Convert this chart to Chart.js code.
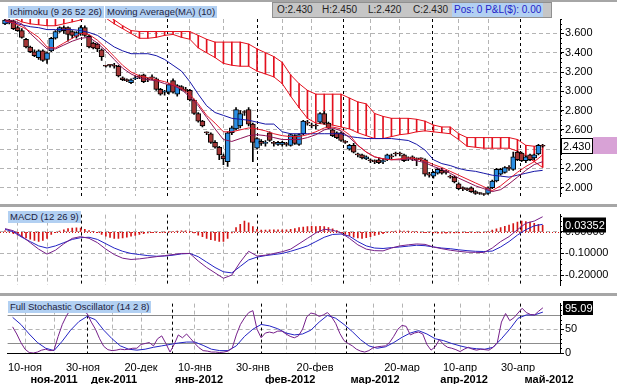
<!DOCTYPE html>
<html lang="ru">
<head>
<meta charset="UTF-8">
<title>Ichimoku / MACD / Stochastic</title>
<script src="https://cdn.jsdelivr.net/npm/chart.js"></script>
<style>
  html, body { margin: 0; padding: 0; background: #fff; }
  body { width: 617px; height: 384px; position: relative; overflow: hidden;
         font-family: "Liberation Sans", Arial, sans-serif; }
  canvas { position: absolute; left: 0; }
  #cPrice { top: 0; }
  #cMacd { top: 207px; }
  #cStoch { top: 296px; }
  .sep { position: absolute; left: 0; width: 617px; background: #a6a6a6; }
  .tag { position: absolute; height: 12px; line-height: 12px; font-size: 9.5px; padding: 0 2px;
         background: #b2d0f2; color: #1c1c40; white-space: nowrap; }
  .ohlc { position: absolute; top: 2px; left: 272px; width: 278px; height: 14px;
          background: #c6c6c6; border: 1px solid #909090; font-size: 10px; line-height: 14px; }
  .ohlc span { position: absolute; top: 0; color: #222; }
  .ohlc .pos { color: #2222c8; background: #b2d0f2; padding: 0 2px; }
</style>
</head>
<body>
<div class="sep" style="top:0;height:2px"></div>
<canvas id="cPrice" width="617" height="204"></canvas>
<div class="sep" style="top:204px;height:3px"></div>
<canvas id="cMacd" width="617" height="86"></canvas>
<div class="sep" style="top:293px;height:3px"></div>
<canvas id="cStoch" width="617" height="88"></canvas>

<div class="tag" style="left:8px;top:6px">Ichimoku (9 26 52 26)</div>
<div class="tag" style="left:105px;top:6px">Moving Average(MA) (10)</div>
<div class="ohlc">
  <span style="left:4px">O:2.430</span>
  <span style="left:49px">H:2.450</span>
  <span style="left:95px">L:2.420</span>
  <span style="left:140px">C:2.430</span>
  <span class="pos" style="left:179px">Pos: 0 P&amp;L($): 0.00</span>
</div>
<div class="tag" style="left:8px;top:211px">MACD (12 26 9)</div>
<div class="tag" style="left:8px;top:301px">Full Stochastic Oscillator (14 2 8)</div>

<script>
// daily bars, 07 nov 2011 .. 04 may 2012
const opens = [3.70,3.74,3.73,3.66,3.63,3.54,3.46,3.41,3.35,3.42,3.33,3.42,3.55,3.62,3.66,3.66,3.62,3.57,3.60,3.66,
  3.57,3.50,3.49,3.43,3.26,3.27,3.27,3.26,3.14,3.12,3.09,3.13,3.15,3.17,3.12,3.14,3.13,3.02,2.99,2.99,
  3.11,2.97,3.05,3.02,3.01,2.91,2.77,2.69,2.57,2.56,2.47,2.42,2.33,2.27,2.57,2.61,2.64,2.78,2.81,2.66,
  2.41,2.48,2.46,2.57,2.46,2.45,2.45,2.46,2.44,2.54,2.45,2.56,2.68,2.65,2.64,2.68,2.77,2.67,2.60,2.57,
  2.57,2.47,2.40,2.44,2.35,2.34,2.30,2.28,2.27,2.29,2.27,2.29,2.32,2.35,2.35,2.34,2.30,2.31,2.29,2.30,
  2.29,2.14,2.12,2.15,2.18,2.16,2.12,2.11,2.04,1.99,1.99,2.00,1.96,1.94,1.93,1.94,2.00,2.07,2.14,2.16,
  2.21,2.19,2.37,2.36,2.28,2.34,2.31,2.35,2.43];
const highs = [3.76,3.76,3.74,3.68,3.65,3.55,3.47,3.43,3.43,3.43,3.41,3.56,3.63,3.67,3.68,3.67,3.63,3.62,3.68,3.68,
  3.58,3.51,3.50,3.44,3.27,3.28,3.29,3.27,3.15,3.13,3.13,3.16,3.17,3.18,3.14,3.17,3.14,3.03,3.01,3.08,
  3.13,3.07,3.06,3.04,3.02,2.92,2.78,2.70,2.58,2.57,2.49,2.43,2.35,2.58,2.64,2.83,2.80,2.80,2.83,2.67,
  2.52,2.50,2.49,2.58,2.48,2.48,2.48,2.47,2.56,2.55,2.56,2.70,2.70,2.67,2.66,2.78,2.79,2.68,2.61,2.58,
  2.58,2.49,2.45,2.46,2.36,2.35,2.33,2.30,2.29,2.31,2.30,2.35,2.35,2.37,2.37,2.35,2.32,2.33,2.31,2.31,
  2.30,2.16,2.17,2.20,2.20,2.18,2.13,2.12,2.05,2.01,2.00,2.01,1.97,1.95,1.94,2.01,2.08,2.20,2.20,2.22,
  2.23,2.37,2.38,2.37,2.33,2.35,2.35,2.45,2.45];
const lows = [3.69,3.70,3.64,3.62,3.55,3.45,3.40,3.36,3.33,3.31,3.29,3.41,3.54,3.61,3.60,3.52,3.55,3.55,3.58,3.57,
  3.45,3.44,3.41,3.32,3.25,3.25,3.24,3.15,3.11,3.10,3.08,3.12,3.13,3.09,3.10,3.12,3.01,2.96,2.96,2.97,
  2.98,2.95,3.01,2.99,2.90,2.76,2.68,2.63,2.55,2.46,2.41,2.29,2.24,2.22,2.55,2.60,2.62,2.75,2.64,2.27,
  2.40,2.44,2.43,2.48,2.43,2.44,2.43,2.43,2.43,2.45,2.44,2.55,2.65,2.62,2.61,2.67,2.66,2.61,2.53,2.51,
  2.48,2.46,2.39,2.36,2.32,2.30,2.29,2.26,2.25,2.25,2.25,2.28,2.30,2.33,2.33,2.27,2.28,2.28,2.23,2.28,
  2.12,2.11,2.10,2.14,2.14,2.14,2.10,2.05,1.98,1.97,1.97,1.95,1.93,1.93,1.92,1.93,1.99,2.06,2.13,2.15,
  2.18,2.18,2.28,2.27,2.26,2.28,2.29,2.34,2.42];
const closes = [3.74,3.72,3.65,3.63,3.56,3.46,3.41,3.37,3.42,3.32,3.40,3.55,3.62,3.66,3.63,3.59,3.58,3.61,3.66,3.58,
  3.46,3.45,3.44,3.36,3.26,3.27,3.26,3.16,3.12,3.11,3.12,3.14,3.15,3.10,3.12,3.14,3.02,2.97,3.00,3.07,
  2.99,3.06,3.02,3.01,2.91,2.77,2.69,2.64,2.57,2.47,2.42,2.34,2.30,2.57,2.62,2.81,2.77,2.78,2.66,2.47,
  2.51,2.46,2.47,2.49,2.46,2.47,2.47,2.45,2.55,2.46,2.55,2.69,2.67,2.64,2.64,2.77,2.67,2.62,2.54,2.52,
  2.49,2.47,2.44,2.37,2.34,2.31,2.32,2.28,2.27,2.26,2.28,2.34,2.32,2.35,2.35,2.28,2.31,2.31,2.29,2.30,
  2.14,2.13,2.16,2.19,2.15,2.16,2.11,2.06,1.99,1.99,1.98,1.96,1.94,1.94,1.93,2.00,2.07,2.19,2.19,2.21,
  2.20,2.32,2.29,2.28,2.32,2.29,2.34,2.44,2.43];

// indicator lines, one value every LINE_STEP bars
const LINE_STEP = 2;
const kijun = [3.72,3.71,3.69,3.67,3.66,3.64,3.64,3.64,3.64,3.63,3.61,3.58,3.52,3.46,3.42,3.39,3.39,3.39,3.37,3.33,
  3.27,3.21,3.10,2.97,2.85,2.78,2.75,2.72,2.71,2.70,2.68,2.66,2.66,2.58,2.56,2.56,2.56,2.56,2.56,2.56,
  2.56,2.53,2.52,2.51,2.51,2.51,2.51,2.50,2.49,2.45,2.39,2.29,2.25,2.23,2.20,2.18,2.17,2.15,2.13,2.12,
  2.11,2.13,2.15,2.17,2.18];
const tenkan = [3.73,3.71,3.67,3.62,3.56,3.46,3.45,3.50,3.55,3.60,3.59,3.53,3.45,3.36,3.27,3.20,3.16,3.14,3.12,3.10,
  3.07,3.03,2.97,2.87,2.75,2.67,2.58,2.58,2.60,2.62,2.61,2.59,2.56,2.54,2.53,2.53,2.55,2.58,2.62,2.63,
  2.61,2.55,2.44,2.37,2.32,2.30,2.29,2.30,2.31,2.30,2.28,2.24,2.21,2.17,2.13,2.09,2.05,2.01,1.97,2.02,
  2.09,2.16,2.22,2.27,2.34];
const ma10 = [3.74,3.73,3.70,3.60,3.52,3.44,3.44,3.48,3.52,3.55,3.56,3.50,3.42,3.33,3.24,3.18,3.14,3.12,3.11,3.08,
  3.06,3.02,2.94,2.85,2.73,2.61,2.50,2.48,2.51,2.54,2.55,2.54,2.52,2.50,2.50,2.50,2.52,2.55,2.60,2.62,
  2.59,2.52,2.44,2.37,2.32,2.30,2.29,2.29,2.30,2.28,2.26,2.22,2.19,2.15,2.10,2.06,2.02,1.99,1.96,1.98,
  2.04,2.11,2.18,2.24,2.27];
const spanA = [3.90,3.90,3.88,3.86,3.86,3.86,3.86,3.86,3.84,3.84,3.84,3.84,3.80,3.74,3.68,3.63,3.62,3.62,3.62,3.62,
  3.62,3.62,3.62,3.58,3.54,3.51,3.51,3.51,3.51,3.49,3.44,3.40,3.36,3.30,3.17,3.08,3.01,2.97,2.97,2.97,
  2.97,2.93,2.89,2.87,2.77,2.74,2.72,2.72,2.72,2.71,2.69,2.65,2.63,2.63,2.56,2.52,2.52,2.52,2.52,2.52,
  2.52,2.50,2.44,2.43,2.44];
const spanB = [3.82,3.76,3.72,3.70,3.69,3.68,3.68,3.70,3.72,3.74,3.78,3.80,3.76,3.70,3.65,3.60,3.55,3.55,3.56,3.58,
  3.59,3.56,3.54,3.45,3.40,3.35,3.29,3.27,3.26,3.26,3.21,3.18,3.15,3.08,2.95,2.83,2.72,2.67,2.66,2.65,
  2.63,2.61,2.57,2.54,2.51,2.51,2.53,2.55,2.56,2.58,2.59,2.58,2.57,2.56,2.50,2.43,2.42,2.41,2.41,2.41,
  2.41,2.38,2.33,2.27,2.21];

const macdLine = [0.015,0.005,-0.02,-0.05,-0.08,-0.103,-0.085,-0.055,-0.03,-0.022,-0.03,-0.05,-0.08,-0.105,-0.122,-0.128,-0.125,-0.12,-0.115,-0.11,
  -0.105,-0.10,-0.10,-0.135,-0.165,-0.19,-0.215,-0.20,-0.14,-0.09,-0.112,-0.108,-0.10,-0.092,-0.08,-0.055,-0.03,-0.005,0.012,0.008,
  -0.005,-0.03,-0.06,-0.08,-0.087,-0.088,-0.075,-0.065,-0.06,-0.056,-0.058,-0.07,-0.078,-0.085,-0.09,-0.094,-0.095,-0.096,-0.075,-0.045,
  -0.022,0.01,0.04,0.05,0.07];
const macdSignal = [0.012,0.0,-0.025,-0.045,-0.065,-0.075,-0.065,-0.05,-0.035,-0.027,-0.025,-0.035,-0.055,-0.075,-0.09,-0.10,-0.105,-0.11,-0.113,-0.112,
  -0.108,-0.102,-0.10,-0.115,-0.14,-0.165,-0.185,-0.19,-0.16,-0.13,-0.117,-0.11,-0.105,-0.10,-0.09,-0.078,-0.065,-0.045,-0.025,-0.012,
  -0.01,-0.02,-0.045,-0.065,-0.075,-0.077,-0.073,-0.07,-0.066,-0.062,-0.064,-0.07,-0.075,-0.078,-0.083,-0.087,-0.09,-0.091,-0.089,-0.07,
  -0.045,-0.015,0.01,0.028,0.035];
// one per bar
const macdHist = [0.005,0,-0.008,-0.015,-0.022,-0.028,-0.034,-0.040,-0.044,-0.040,
  -0.030,-0.012,-0.004,0.004,0.010,0.015,0.018,0.019,0.017,0.012,
  0.006,0.002,-0.004,-0.012,-0.020,-0.026,-0.030,-0.030,-0.028,-0.024,
  -0.020,-0.016,-0.012,-0.008,-0.005,-0.004,-0.003,-0.002,-0.001,0.000,
  0.002,0.004,0.005,0.005,0.003,-0.005,-0.015,-0.022,-0.030,-0.036,
  -0.040,-0.044,-0.044,-0.030,-0.005,0.020,0.035,0.050,0.042,0.025,
  0.012,0.008,0.008,0.009,0.009,0.010,0.009,0.010,0.012,0.015,
  0.020,0.022,0.024,0.026,0.025,0.026,0.024,0.020,0.014,0.006,
  -0.004,-0.012,-0.018,-0.024,-0.028,-0.030,-0.027,-0.022,-0.016,-0.012,
  -0.008,-0.004,0.002,0.004,0.005,0.004,0.004,0.003,0.002,-0.002,
  -0.004,-0.004,-0.005,-0.006,-0.006,-0.006,-0.005,-0.005,-0.005,-0.004,
  -0.004,-0.004,-0.003,-0.002,-0.002,0.003,0.008,0.014,0.020,0.026,
  0.032,0.038,0.045,0.050,0.048,0.045,0.040,0.035,0.030];
const macdLast = 0.03352;

const stochK = [55,40,22,8,1,0,2,6,8,5, 6,35,60,78,92,93,92,88,83,65, 50,30,14,7,5,6,8,7,8,10,
  10,18,20,22,15,30,36,20,2,18, 38,32,40,30,20,11,5,4,2,2, 1,2,4,10,38,60,74,85,89,50,
  32,42,44,42,46,46,40,35,32,36, 50,76,84,82,77,80,85,76,62,41, 26,20,15,8,4,2,5,11,13,14,
  15,22,35,50,58,56,38,42,44,40, 18,6,13,28,18,12,10,7,3,8, 12,8,6,8,7,6,12,22,65,83,
  68,74,84,94,85,81,80,88,95];
const stochD = [75,60,40,22,10,5,25,48,66,77, 70,48,30,15,8,6,8,12,15,18, 21,23,23,16,8,5,5,15,35,50,
  60,57,51,42,38,40,48,65,79,73, 60,45,28,15,10,13,22,33,42,47, 40,30,26,20,15,11,9,8,12,30,
  50,73,80,80,86];
const stochLast = 95.09;

// axes
const priceTicks = [2.0, 2.2, 2.4, 2.6, 2.8, 3.0, 3.2, 3.4, 3.6];
const macdTicks = [-0.2, -0.1, 0];
const stochTicks = [0, 50];
const dayIdx = [3, 17, 31, 44, 58, 73, 94, 108, 122];
const dayLabels = ['10-ноя', '30-ноя', '20-дек', '10-янв', '30-янв', '20-фев', '20-мар', '10-апр', '30-апр'];
const gridIdx = [3, 10, 24, 31, 44, 52, 66, 73, 87, 94, 108, 115];
const monthIdx = [10, 24.5, 45, 67, 87.5, 109, 129.5];
const monthLabels = ['ноя-2011', 'дек-2011', 'янв-2012', 'фев-2012', 'мар-2012', 'апр-2012', 'май-2012'];
const monthStarts = [18, 38.5, 60, 80.5, 101.7, 122.5];

const X_MIN = -1.2, X_MAX = -1.2 + 560 / 4.2;
const GRID = '#b4b4b4';
const FONT = { family: '"Liberation Sans", Arial, sans-serif', size: 11 };

Chart.defaults.font = FONT;
Chart.defaults.color = '#000';

const pts = arr => arr.map((v, k) => ({ x: k * LINE_STEP, y: v }));
const bars = arr => arr.map((v, i) => ({ x: i, y: v }));
const allXTicks = [...new Set([...dayIdx, ...gridIdx])].sort((a, b) => a - b);

function xAxis(showLabels) {
  return {
    type: 'linear', min: X_MIN, max: X_MAX, offset: false, position: 'bottom',
    grid: { offset: false, drawTicks: false,
            color: c => (c.tick && gridIdx.includes(c.tick.value)) ? GRID : 'rgba(0,0,0,0)' },
    border: { display: showLabels, color: '#000', dash: [4, 3] },
    afterBuildTicks: s => { s.ticks = allXTicks.map(v => ({ value: v })); },
    ticks: { display: showLabels, autoSkip: false, maxRotation: 0, padding: 8,
             callback: v => { const j = dayIdx.indexOf(v); return j < 0 ? '' : dayLabels[j]; } },
    afterFit: s => { s.height = showLabels ? 19 : 0; }
  };
}

function yAxis(ticks, min, max, fmt) {
  return {
    type: 'linear', position: 'right', min: min, max: max,
    grid: { color: GRID, tickColor: '#000', tickLength: 4, tickBorderDash: [] },
    border: { display: true, color: '#000', dash: [4, 3] },
    afterBuildTicks: s => { s.ticks = ticks.map(v => ({ value: v })); },
    ticks: { padding: 1, callback: fmt },
    afterFit: s => { s.width = 57; }
  };
}

// month separators, reference lines, minor ticks and value boxes
const decor = {
  id: 'decor',
  beforeDatasetsDraw(chart, args, o) {
    const { ctx, chartArea: a, scales: { x, y } } = chart;
    ctx.save();
    ctx.lineWidth = 1;
    (o.refs || []).forEach(r => {
      const py = Math.round(y.getPixelForValue(r.value)) + 0.5;
      ctx.strokeStyle = r.color; ctx.setLineDash(r.dash || []);
      ctx.beginPath(); ctx.moveTo(a.left, py); ctx.lineTo(a.right, py); ctx.stroke();
    });
    ctx.strokeStyle = '#000'; ctx.setLineDash([3, 3]);
    monthStarts.forEach(m => {
      const px = Math.round(x.getPixelForValue(m)) + 0.5;
      ctx.beginPath(); ctx.moveTo(px, a.top); ctx.lineTo(px, a.bottom); ctx.stroke();
    });
    ctx.restore();
  },
  afterDraw(chart, args, o) {
    const { ctx, chartArea: a, scales: { y } } = chart;
    ctx.save();
    ctx.strokeStyle = '#000'; ctx.lineWidth = 1;
    if (o.minor) {
      for (let v = y.min - (y.min % o.minor); v <= y.max; v += o.minor) {
        if (v < y.min) continue;
        const py = Math.round(y.getPixelForValue(v)) + 0.5;
        ctx.beginPath(); ctx.moveTo(a.right, py); ctx.lineTo(a.right + 2, py); ctx.stroke();
      }
    }
    const b = o.box;
    if (b) {
      const py = Math.round(y.getPixelForValue(b.value));
      if (b.side) { ctx.fillStyle = b.side; ctx.fillRect(b.x2, py - 9, 617 - b.x2, 17); }
      ctx.fillStyle = b.bg;
      ctx.fillRect(b.x1, py - b.h / 2, b.x2 - b.x1, b.h);
      if (b.border) { ctx.strokeRect(b.x1 + 0.5, py - b.h / 2 + 0.5, b.x2 - b.x1 - 1, b.h - 1); }
      ctx.fillStyle = b.fg; ctx.font = '11px "Liberation Sans", Arial, sans-serif';
      ctx.textBaseline = 'middle'; ctx.fillText(b.text, b.x1 + 2, py + 0.5);
    }
    ctx.restore();
  }
};

const base = (padding, plugins, scales) => ({
  responsive: false, maintainAspectRatio: false, animation: false, events: [],
  layout: { padding: padding },
  plugins: Object.assign({ legend: { display: false }, tooltip: { enabled: false } }, plugins),
  scales: scales
});

const line = (data, color, order) => ({
  type: 'line', data: data, borderColor: color, borderWidth: 1, pointRadius: 0, tension: 0, order: order
});

// price panel
const UP = '#2b8fe4', DOWN = '#a53636', CLOUD = '#e3101e';
new Chart(document.getElementById('cPrice'), {
  type: 'bar',
  data: { datasets: [
    { data: spanA.map((v, k) => ({ x: k * LINE_STEP, y: [v, spanB[k]] })), backgroundColor: CLOUD,
      barThickness: 1, grouped: false, order: 7 },
    line(pts(spanA), CLOUD, 6),
    line(pts(spanB), CLOUD, 6),
    { data: lows.map((v, i) => ({ x: i, y: [v, highs[i]] })), backgroundColor: '#000',
      barThickness: 1, grouped: false, order: 5 },
    { data: opens.map((v, i) => ({ x: i, y: [v, closes[i]] })),
      backgroundColor: opens.map((v, i) => closes[i] > v ? UP : DOWN),
      borderColor: '#000', borderWidth: 1, borderSkipped: false, minBarLength: 1,
      barThickness: 5, grouped: false, order: 4 },
    line(pts(kijun), '#1515a6', 3),
    line(pts(ma10), '#8c1356', 2),
    line(pts(tenkan), '#e4182c', 1)
  ] },
  options: base({ top: 19, bottom: 1 },
    { decor: { minor: 0.05, box: { value: closes[closes.length - 1], text: '2.430', x1: 561, x2: 593, h: 16,
                                   bg: '#fff', fg: '#000', border: true, side: '#d8a2d6' } } },
    { x: xAxis(false), y: yAxis(priceTicks, 1.91, 3.75, v => v.toFixed(3)) }),
  plugins: [decor]
});

// MACD panel
new Chart(document.getElementById('cMacd'), {
  type: 'bar',
  data: { datasets: [
    { data: bars(macdHist), backgroundColor: '#d41616', barThickness: 1, grouped: false, order: 3 },
    line(pts(macdSignal), '#2323c4', 2),
    line(pts(macdLine), '#76208a', 1)
  ] },
  options: base({ top: 2, bottom: 2 },
    { decor: { minor: 0.025, refs: [{ value: 0, color: '#d41616', dash: [1, 2] }],
               box: { value: macdLast, text: '0.03352', x1: 563, x2: 606, h: 15, bg: '#000', fg: '#fff' } } },
    { x: xAxis(false), y: yAxis(macdTicks, -0.248, 0.08, v => v.toFixed(5)) }),
  plugins: [decor]
});

// stochastic panel
const xMonths = {
  type: 'linear', min: X_MIN, max: X_MAX, offset: false, position: 'bottom',
  grid: { display: false, drawTicks: false }, border: { display: false },
  afterBuildTicks: s => { s.ticks = monthIdx.map(v => ({ value: v })); },
  ticks: { autoSkip: false, maxRotation: 0, padding: 1, font: { size: 11, weight: 'bold' },
           callback: (v, i) => monthLabels[i] },
  afterFit: s => { s.height = 12; }
};
new Chart(document.getElementById('cStoch'), {
  type: 'line',
  data: { datasets: [
    line(pts(stochD), '#2323c4', 2),
    line(bars(stochK), '#76208a', 1)
  ] },
  options: base({ top: 3, bottom: 0 },
    { decor: { minor: 10, refs: [{ value: 80, color: '#8c8c8c' }, { value: 20, color: '#8c8c8c' }],
               box: { value: stochLast, text: '95.09', x1: 563, x2: 593, h: 14, bg: '#000', fg: '#fff' } } },
    { x: xAxis(true), x2: xMonths, y: yAxis(stochTicks, 0, 103.85, v => String(v)) }),
  plugins: [decor]
});
</script>
</body>
</html>
